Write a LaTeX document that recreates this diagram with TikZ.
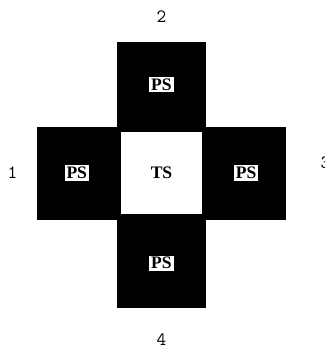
\documentclass[tikz,border=0pt]{standalone}
\usepackage{fontspec}
\newfontfamily\negrita{Liberation Serif}
\usetikzlibrary{positioning}
\tikzset{
    bloque/.style={fill=black, draw=none, inner sep=0pt},
    etiq/.style={fill=white, text=black, inner sep=1.5pt,
        font=\negrita\bfseries\fontsize{15}{16}\selectfont},
    num/.style={font=\ttfamily\fontsize{16}{17}\selectfont}
}
\begin{document}
\begin{tikzpicture}
        \useasboundingbox (-4.845,-5.28) rectangle (4.905,5.19);

        % Celda central
        \node[draw=black, line width=0.12cm, fill=white, minimum width=2.55cm,
            minimum height=2.58cm, font=\negrita\bfseries\fontsize{15}{16}\selectfont]
            (ts) at (0,0) {TS};

        % Celdas vecinas
        \node[bloque, minimum width=2.67cm, minimum height=2.58cm,
            above=0pt of ts] (ps2) {};
        \node[bloque, minimum width=2.4cm, minimum height=2.79cm,
            left=0pt of ts] (ps1) {};
        \node[bloque, minimum width=2.4cm, minimum height=2.79cm,
            right=0pt of ts] (ps3) {};
        \node[bloque, minimum width=2.67cm, minimum height=2.7cm,
            below=0pt of ts] (ps4) {};

        \foreach \c in {ps1,ps2,ps3,ps4}
            \node[etiq] at (\c) {PS};

        % Numeros
        \node[num, above=0.45cm of ps2] (n2) {2};
        \node[num, left=0.45cm of ps1] (n1) {1};
        \node[num, right=0.9cm of ps3, yshift=0.3cm] (n3) {3};
        \node[num, below=0.65cm of ps4] (n4) {4};
    \end{tikzpicture}
\end{document}
